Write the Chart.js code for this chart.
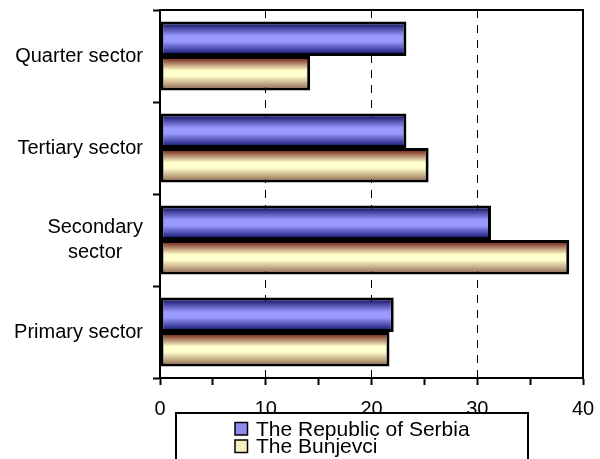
<!DOCTYPE html>
<html>
<head>
<meta charset="utf-8">
<script src="https://cdn.jsdelivr.net/npm/chart.js@4/dist/chart.umd.min.js"></script>
<style>
  html, body { margin: 0; padding: 0; background: #fff; }
  #wrap { width: 600px; height: 459px; position: relative; }
</style>
</head>
<body>
<div id="wrap"><canvas id="sector-chart"></canvas></div>
<script>
// values (percent)
const CATEGORIES = [["Quarter sector"], ["Tertiary sector"], ["Secondary", "sector"], ["Primary sector"]];
const SERIES_NAMES = ["The Republic of Serbia", "The Bunjevci"];
const SERBIA = [23.3, 23.3, 31.3, 22.1];
const BUNJEVCI = [14.2, 25.4, 38.7, 21.7];
const X_MIN = 0;
const X_MAX = 40;
const X_STEP = 5;
const X_LABEL_EVERY = 10;

const FONT = "Arial, 'Liberation Sans', sans-serif";
const CAT_PCT = 0.75;

// edge / middle / edge shades for the cylinder-like fill
const SHADES = [
  ["#141468", "#9999ff", "#1a1a76"],
  ["#74241a", "#ffffcc", "#9a7256"],
];
const SWATCH = ["#8c8cf0", "#f6f0c0"];

function barFill(stops) {
  return (ctx) => {
    const chart = ctx.chart;
    const y = chart.scales.y;
    if (!y || ctx.dataIndex === undefined || ctx.datasetIndex === undefined) return stops[1];
    const cat = (y.bottom - y.top) / CATEGORIES.length;
    const bar = (cat * CAT_PCT) / SERIES_NAMES.length;
    const top = y.getPixelForValue(ctx.dataIndex) - (cat * CAT_PCT) / 2 + ctx.datasetIndex * bar;
    if (!Number.isFinite(top) || !Number.isFinite(bar) || bar <= 0) return stops[1];
    const g = chart.ctx.createLinearGradient(0, top, 0, top + bar);
    g.addColorStop(0.06, stops[0]);
    g.addColorStop(0.42, stops[1]);
    g.addColorStop(0.58, stops[1]);
    g.addColorStop(0.94, stops[2]);
    return g;
  };
}

// frame, category labels and the boxed legend
const decorations = {
  id: "decorations",
  afterDraw(chart) {
    const { ctx, chartArea } = chart;
    const y = chart.scales.y;
    ctx.save();
    ctx.strokeStyle = "#000";
    ctx.lineWidth = 2;
    ctx.strokeRect(chartArea.left, chartArea.top, chartArea.right - chartArea.left, chartArea.bottom - chartArea.top);

    ctx.fillStyle = "#000";
    ctx.font = "20px " + FONT;
    ctx.textBaseline = "middle";
    ctx.textAlign = "center";
    const rightEdge = chartArea.left - 17;
    CATEGORIES.forEach((lines, i) => {
      const cy = y.getPixelForValue(i);
      const w = Math.max(...lines.map((l) => ctx.measureText(l).width));
      const cx = rightEdge - w / 2;
      const lh = 25;
      lines.forEach((l, j) => {
        ctx.fillText(l, cx, cy + (j - (lines.length - 1) / 2) * lh);
      });
    });

    // legend box
    ctx.fillStyle = "#fff";
    ctx.fillRect(176, 413, 352, 60);
    ctx.strokeRect(176, 413, 352, 60);
    ctx.font = "21px " + FONT;
    ctx.textAlign = "left";
    ctx.textBaseline = "alphabetic";
    SERIES_NAMES.forEach((name, i) => {
      const sy = 422.5 + i * 17.5;
      ctx.fillStyle = SWATCH[i];
      ctx.fillRect(235, sy, 12.5, 12.5);
      ctx.lineWidth = 1.5;
      ctx.strokeStyle = "#000";
      ctx.strokeRect(235, sy, 12.5, 12.5);
      ctx.fillStyle = "#000";
      ctx.fillText(name, 256, 436 + i * 17);
    });
    ctx.restore();
  },
};

new Chart(document.getElementById("sector-chart"), {
  type: "bar",
  data: {
    labels: CATEGORIES,
    datasets: [
      { label: SERIES_NAMES[0], data: SERBIA, backgroundColor: barFill(SHADES[0]) },
      { label: SERIES_NAMES[1], data: BUNJEVCI, backgroundColor: barFill(SHADES[1]) },
    ],
  },
  options: {
    indexAxis: "y",
    responsive: true,
    maintainAspectRatio: false,
    animation: false,
    layout: { padding: { top: 10, right: 17, left: 0, bottom: 0 } },
    datasets: {
      bar: {
        categoryPercentage: CAT_PCT,
        barPercentage: 1,
        borderColor: "#000",
        borderWidth: 3,
        borderSkipped: false,
      },
    },
    scales: {
      x: {
        min: X_MIN,
        max: X_MAX,
        afterFit: (s) => {
          s.height = 81;
          s.paddingLeft = 0;
          s.paddingRight = 0;
        },
        ticks: {
          stepSize: X_STEP,
          autoSkip: false,
          maxRotation: 0,
          padding: 12,
          color: "#000",
          font: { family: FONT, size: 20 },
          callback: (v) => (v % X_LABEL_EVERY === 0 ? v : ""),
        },
        grid: {
          color: (c) =>
            c.tick && c.tick.value % X_LABEL_EVERY === 0 && c.tick.value > X_MIN && c.tick.value < X_MAX
              ? "#000"
              : "rgba(0,0,0,0)",
          lineWidth: 1,
          tickColor: "#000",
          tickWidth: 2,
          tickLength: 7,
        },
        border: { color: "#000", width: 2, dash: [8, 7] },
      },
      y: {
        afterFit: (s) => { s.width = 160; },
        ticks: { display: false },
        grid: {
          drawOnChartArea: false,
          offset: true,
          tickColor: "#000",
          tickWidth: 2,
          tickLength: 7,
        },
        border: { color: "#000", width: 2 },
      },
    },
    plugins: {
      legend: { display: false },
      tooltip: { enabled: false },
    },
  },
  plugins: [decorations],
});
</script>
</body>
</html>
